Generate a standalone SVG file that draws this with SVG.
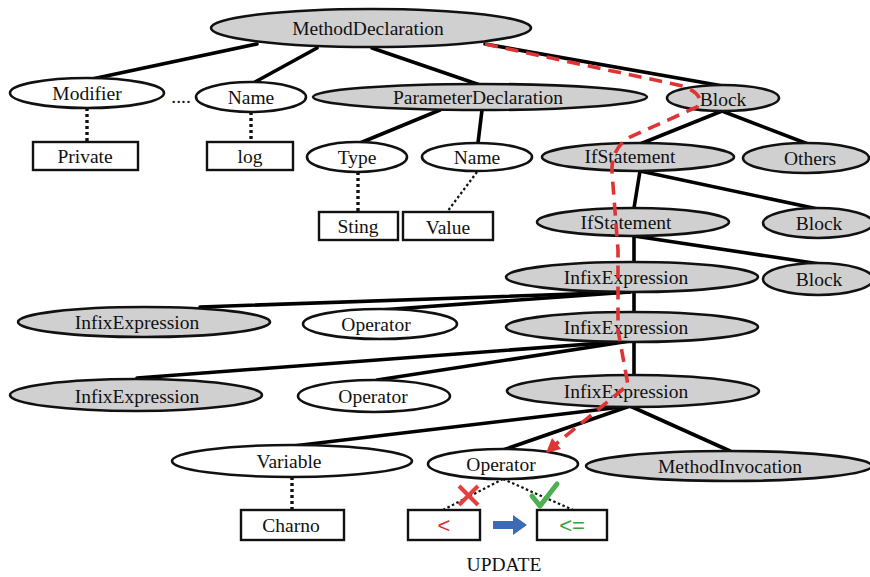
<svg xmlns="http://www.w3.org/2000/svg" width="870" height="577" viewBox="0 0 870 577">
<style>
text{font-family:"Liberation Serif","Times New Roman",serif;font-size:19.5px;fill:#111;text-anchor:middle}
text.op{font-family:"Liberation Sans",Arial,sans-serif;font-size:22px}
.g{fill:#d0d0d1;stroke:#111;stroke-width:2.6}
.w{fill:#fff;stroke:#111;stroke-width:2.6}
.b{fill:#fff;stroke:#111;stroke-width:2.4}
.e{stroke:#000;stroke-width:3.6;fill:none;stroke-linecap:round}
.d{stroke:#111;stroke-width:3.4;stroke-dasharray:3 3;fill:none}
.dt{stroke:#111;stroke-width:2.2;stroke-dasharray:2.5 2.5;fill:none}
</style>
<rect width="870" height="577" fill="#fff"/>
<g id="connectors">
<line class="e" x1="257" y1="44" x2="92" y2="79"/>
<line class="e" x1="317" y1="48" x2="255" y2="82"/>
<line class="e" x1="372" y1="48" x2="480" y2="85"/>
<line class="e" x1="485" y1="44" x2="723" y2="86"/>
<line class="e" x1="440" y1="110" x2="360" y2="143"/>
<line class="e" x1="482" y1="110" x2="478" y2="143"/>
<line class="e" x1="722" y1="111" x2="640" y2="144"/>
<line class="e" x1="722" y1="111" x2="808" y2="144"/>
<line class="e" x1="640" y1="171" x2="634" y2="208"/>
<line class="e" x1="640" y1="171" x2="818" y2="209"/>
<line class="e" x1="634" y1="236" x2="634" y2="263"/>
<line class="e" x1="634" y1="236" x2="820" y2="264"/>
<line class="e" x1="630" y1="292" x2="200" y2="307"/>
<line class="e" x1="630" y1="292" x2="380" y2="310"/>
<line class="e" x1="634" y1="292" x2="634" y2="313"/>
<line class="e" x1="630" y1="341" x2="137" y2="378"/>
<line class="e" x1="630" y1="341" x2="377" y2="380"/>
<line class="e" x1="634" y1="341" x2="634" y2="377"/>
<line class="e" x1="630" y1="406" x2="293" y2="446"/>
<line class="e" x1="630" y1="406" x2="503" y2="450"/>
<line class="e" x1="630" y1="406" x2="730" y2="451"/>
<line class="d" x1="87" y1="108" x2="87" y2="142"/>
<line class="d" x1="251" y1="112" x2="251" y2="142"/>
<line class="d" x1="358" y1="172" x2="358" y2="212"/>
<line class="dt" x1="477" y1="172" x2="447" y2="212"/>
<line class="d" x1="292" y1="477" x2="292" y2="510"/>
<line class="dt" x1="503" y1="479" x2="443" y2="510"/>
<line class="dt" x1="503" y1="479" x2="573" y2="510"/>
</g>
<g id="n-methoddecl"><ellipse class="g" cx="371" cy="28" rx="160" ry="19"/><text x="368" y="35">MethodDeclaration</text></g>
<g id="n-modifier"><ellipse class="w" cx="87" cy="93" rx="77" ry="15"/><text x="87" y="100">Modifier</text></g>
<g id="n-dots"><text x="181" y="103">....</text></g>
<g id="n-name1"><ellipse class="w" cx="251" cy="97" rx="55" ry="15"/><text x="251" y="104">Name</text></g>
<g id="n-paramdecl"><ellipse class="g" cx="480" cy="97" rx="167" ry="13"/><text x="478" y="104">ParameterDeclaration</text></g>
<g id="n-block1"><ellipse class="g" cx="723" cy="98" rx="56" ry="13"/><text x="723" y="106">Block</text></g>
<g id="n-private"><rect class="b" x="33" y="142" width="105" height="28"/><text x="85" y="163">Private</text></g>
<g id="n-log"><rect class="b" x="207" y="142" width="86" height="28"/><text x="250" y="163">log</text></g>
<g id="n-type"><ellipse class="w" cx="357" cy="157" rx="50" ry="15"/><text x="357" y="164">Type</text></g>
<g id="n-name2"><ellipse class="w" cx="477" cy="157" rx="55" ry="14"/><text x="477" y="164">Name</text></g>
<g id="n-if1"><ellipse class="g" cx="638" cy="157" rx="96" ry="14"/><text x="630" y="163">IfStatement</text></g>
<g id="n-others"><ellipse class="g" cx="806" cy="158" rx="63" ry="15"/><text x="810" y="165">Others</text></g>
<g id="n-sting"><rect class="b" x="319" y="212" width="79" height="28"/><text x="358" y="233">Sting</text></g>
<g id="n-value"><rect class="b" x="403" y="212" width="90" height="28"/><text x="448" y="234">Value</text></g>
<g id="n-if2"><ellipse class="g" cx="633" cy="222" rx="96" ry="14"/><text x="626" y="229">IfStatement</text></g>
<g id="n-block2"><ellipse class="g" cx="818" cy="223" rx="55" ry="15"/><text x="819" y="230">Block</text></g>
<g id="n-infix1"><ellipse class="g" cx="632" cy="277" rx="126" ry="15"/><text x="626" y="284">InfixExpression</text></g>
<g id="n-block3"><ellipse class="g" cx="818" cy="279" rx="55" ry="16"/><text x="819" y="286">Block</text></g>
<g id="n-infixl1"><ellipse class="g" cx="144" cy="322" rx="126" ry="15"/><text x="137" y="329">InfixExpression</text></g>
<g id="n-op1"><ellipse class="w" cx="380" cy="324" rx="77" ry="15"/><text x="376" y="331">Operator</text></g>
<g id="n-infix2"><ellipse class="g" cx="632" cy="327" rx="126" ry="15"/><text x="626" y="334">InfixExpression</text></g>
<g id="n-infixl2"><ellipse class="g" cx="136" cy="395" rx="126" ry="16"/><text x="137" y="403">InfixExpression</text></g>
<g id="n-op2"><ellipse class="w" cx="374" cy="396" rx="76" ry="16"/><text x="373" y="403">Operator</text></g>
<g id="n-infix3"><ellipse class="g" cx="633" cy="391" rx="126" ry="16"/><text x="626" y="398">InfixExpression</text></g>
<g id="n-variable"><ellipse class="w" cx="292" cy="461" rx="120" ry="16"/><text x="289" y="468">Variable</text></g>
<g id="n-op3"><ellipse class="w" cx="503" cy="464" rx="75" ry="15"/><text x="501" y="471">Operator</text></g>
<g id="n-methodinv"><ellipse class="g" cx="729" cy="466" rx="143" ry="15"/><text x="730" y="473">MethodInvocation</text></g>
<g id="n-charno"><rect class="b" x="241" y="510" width="103" height="30"/><text x="291" y="532">Charno</text></g>
<g id="n-lt"><rect class="b" x="408" y="510" width="72" height="30"/><text class="op" x="444" y="533" style="fill:#e03030">&lt;</text></g>
<g id="n-le"><rect class="b" x="537" y="510" width="70" height="30"/><text class="op" x="572" y="533" style="fill:#3aa040">&lt;=</text></g>
<g id="highlight">
<path d="M485,44 L683,86 Q706,95 697,107 L630,137 Q611,148 612,172 L618,250 L618,330 L628,385 L556,444" fill="none" stroke="#e03434" stroke-width="3.6" stroke-dasharray="13 8"/>
<polygon points="546,453 552,438 561,449" fill="#e03434"/>
<line x1="459" y1="486" x2="478" y2="505" stroke="#e04040" stroke-width="4"/>
<line x1="478" y1="486" x2="459" y2="505" stroke="#e04040" stroke-width="4"/>
<polyline points="532,496 540,506 557,484" fill="none" stroke="#4caf50" stroke-width="5" stroke-linecap="round" stroke-linejoin="round"/>
<polygon points="493,521 513,521 513,515 527,525 513,535 513,529 493,529" fill="#3d6bb3"/>
</g>
<text x="504" y="571">UPDATE</text>
</svg>
